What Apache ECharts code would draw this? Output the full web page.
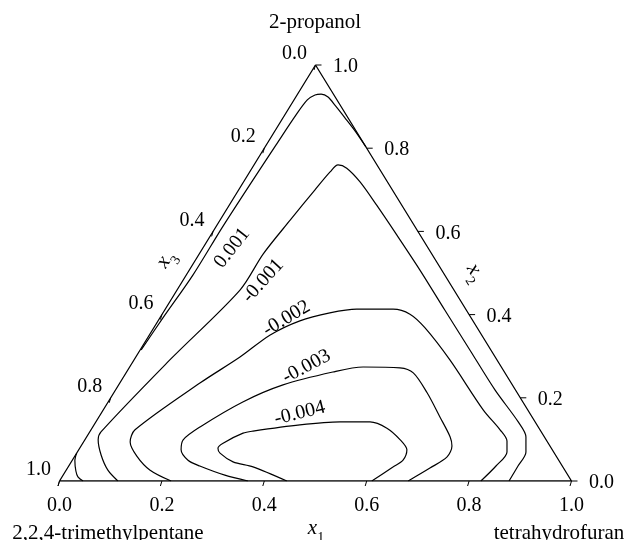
<!DOCTYPE html>
<html><head><meta charset="utf-8">
<script src="https://cdn.jsdelivr.net/npm/echarts@6/dist/echarts.min.js"></script>
<style>html,body{margin:0;padding:0;background:#fff}#c{width:627px;height:540px}</style>
</head><body><div id="c"></div>
<script>
// ---- data (ternary compositions: [x1, x2], x3 = 1 - x1 - x2) ----
const componentTop = '2-propanol';
const componentLeft = '2,2,4-trimethylpentane';
const componentRight = 'tetrahydrofuran';
const tickValues = [0, 0.2, 0.4, 0.6, 0.8, 1.0];
const triangle = [[0, 0], [1, 0], [0, 1], [0, 0]];

const contourCorner = [[0.000,0.067],[0.005,0.050],[0.020,0.024],[0.031,0.010],[0.046,0.000]];
const contourP001 = [[0.002,0.315],[0.006,0.392],[0.013,0.495],[0.013,0.608],[0.016,0.724],[0.019,0.808],[0.022,0.880],[0.026,0.916],[0.035,0.928],[0.046,0.930],[0.063,0.923],[0.089,0.901],[0.121,0.873],[0.157,0.841],[0.197,0.803]];
const contourM001 = [[0.114,0],[0.0815,0.026],[0.050,0.0625],[0.026,0.099],[0.022,0.118],[0.070,0.291],[0.123,0.459],[0.125,0.546],[0.137,0.627],[0.149,0.700],[0.157,0.743],[0.164,0.760],[0.185,0.752],[0.2275,0.719],[0.288,0.663],[0.3635,0.591],[0.4505,0.507],[0.547,0.411],[0.644,0.315],[0.741,0.219],[0.825,0.142],[0.858,0.106],[0.876,0.070],[0.8775,0.036],[0.878,0]];
const contourM002 = [[0.218,0],[0.164,0.026],[0.121,0.060],[0.091,0.094],[0.086,0.123],[0.157,0.236],[0.2035,0.298],[0.236,0.351],[0.277,0.385],[0.326,0.404],[0.374,0.413],[0.445,0.413],[0.484,0.401],[0.530,0.368],[0.617,0.291],[0.742,0.171],[0.799,0.123],[0.826,0.096],[0.839,0.070],[0.8345,0.036],[0.823,0]];
const contourM003 = [[0.368,0],[0.316,0.014],[0.256,0.036],[0.226,0.050],[0.200,0.075],[0.192,0.099],[0.2095,0.130],[0.263,0.190],[0.321,0.231],[0.403,0.262],[0.456,0.274],[0.529,0.272],[0.561,0.260],[0.612,0.212],[0.666,0.154],[0.710,0.106],[0.7245,0.084],[0.728,0.058],[0.708,0.031],[0.681,0]];
const contourM004 = [[0.444,0],[0.361,0.034],[0.316,0.046],[0.280,0.067],[0.270,0.079],[0.274,0.091],[0.301,0.115],[0.318,0.120],[0.402,0.135],[0.477,0.142],[0.5355,0.142],[0.576,0.127],[0.616,0.099],[0.641,0.075],[0.646,0.050],[0.635,0.034],[0.610,0]];

const levelLabels = ['0.001', '-0.001', '-0.002', '-0.003', '-0.004'];
const levelLabelAt = [[0.057,0.560],[0.157,0.481],[0.248,0.391],[0.345,0.275],[0.388,0.163]];
// ---- styling ----
const levelLabelRot = [52, 48, 31, 28, 14];
const FONT = '20px "Liberation Serif", "Times New Roman", serif';
const NAME_FONT = '21px "Liberation Serif", "Times New Roman", serif';

const toXY = p => [p[0] + p[1] / 2, p[1]];

const chart = echarts.init(document.getElementById('c'), null, {renderer: 'canvas'});

function lineSeries(pts, w) {
  return {
    type: 'line', data: pts.map(toXY), symbol: 'none', smooth: 0.3,
    lineStyle: {color: '#000', width: w}, silent: true, z: 3
  };
}
const centered = {align: 'center', verticalAlign: 'middle', textAlign: 'center', textVerticalAlign: 'middle'};
const subRich = {
  i: {fontFamily: 'Liberation Serif', fontStyle: 'italic', fontSize: 21, lineHeight: 22, verticalAlign: 'bottom'},
  s: {fontFamily: 'Liberation Serif', fontSize: 14, lineHeight: 22, verticalAlign: 'bottom', padding: [0,0,-6,0]}
};

const option = {
  animation: false,
  backgroundColor: '#fff',
  grid: {left: 59.5, top: 65, width: 512, height: 416},
  xAxis: {type: 'value', min: 0, max: 1, show: false},
  yAxis: {type: 'value', min: 0, max: 1, show: false},
  series: [
    {type: 'line', data: triangle.map(toXY), symbol: 'none', smooth: false,
     lineStyle: {color: '#000', width: 1.3}, silent: true, z: 4},
    lineSeries(contourCorner, 1.2),
    lineSeries(contourP001, 1.2),
    lineSeries(contourM001, 1.2),
    lineSeries(contourM002, 1.2),
    lineSeries(contourM003, 1.2),
    lineSeries(contourM004, 1.2),
    {
      type: 'custom', coordinateSystem: 'cartesian2d', clip: false, silent: true, z: 5,
      data: tickValues.map(v => [v, 0]),
      renderItem: function (params, api) {
        const v = api.value(0);
        const txt = v.toFixed(1);
        const b = api.coord(toXY([v, 0]));          // bottom axis x1
        const l = api.coord(toXY([0, 1 - v]));      // left axis x3
        const r = api.coord(toXY([1 - v, v]));      // right axis x2
        const ls = {stroke: '#000', lineWidth: 1};
        const ts = (x, y, t) => ({type: 'text', x: x, y: y,
          style: Object.assign({text: t, font: FONT, fill: '#000'}, centered)});
        return {type: 'group', children: [
          {type: 'line', shape: {x1: b[0], y1: b[1], x2: b[0] - 1.5, y2: b[1] + 5}, style: ls},
          {type: 'line', shape: {x1: l[0], y1: l[1], x2: l[0] - 1.5, y2: l[1] + 5}, style: ls},
          {type: 'line', shape: {x1: r[0], y1: r[1], x2: r[0] + 6, y2: r[1]}, style: ls},
          ts(b[0], b[1] + 25, txt),
          ts(l[0] - 21, l[1] - 11, txt),
          ts(r[0] + 30, r[1] + 2, txt)
        ]};
      }
    },
    {
      type: 'custom', coordinateSystem: 'cartesian2d', clip: false, silent: true, z: 5,
      data: levelLabelAt.map((p, i) => [p[0], p[1], i]),
      renderItem: function (params, api) {
        const i = api.value(2);
        const c = api.coord(toXY([api.value(0), api.value(1)]));
        return {type: 'text', x: c[0], y: c[1], rotation: levelLabelRot[i] * Math.PI / 180,
          style: Object.assign({text: levelLabels[i], font: FONT, fill: '#000'}, centered)};
      }
    }
  ],
  graphic: [
    {type: 'text', x: 315, y: 22, style: Object.assign({text: componentTop, font: NAME_FONT, fill: '#000'}, centered)},
    {type: 'text', x: 108, y: 533, style: Object.assign({text: componentLeft, font: NAME_FONT, fill: '#000'}, centered)},
    {type: 'text', x: 559, y: 533, style: Object.assign({text: componentRight, font: NAME_FONT, fill: '#000'}, centered)},
    {type: 'text', x: 316, y: 528, style: Object.assign({text: '{i|x}{s|1}', fill: '#000', rich: subRich}, centered)},
    {type: 'text', x: 165, y: 259, rotation: 58 * Math.PI / 180,
     style: Object.assign({text: '{i|x}{s|3}', fill: '#000', rich: subRich}, centered)},
    {type: 'text', x: 476, y: 272, rotation: -58 * Math.PI / 180,
     style: Object.assign({text: '{i|x}{s|2}', fill: '#000', rich: subRich}, centered)}
  ]
};
chart.setOption(option);
</script>
</body></html>
